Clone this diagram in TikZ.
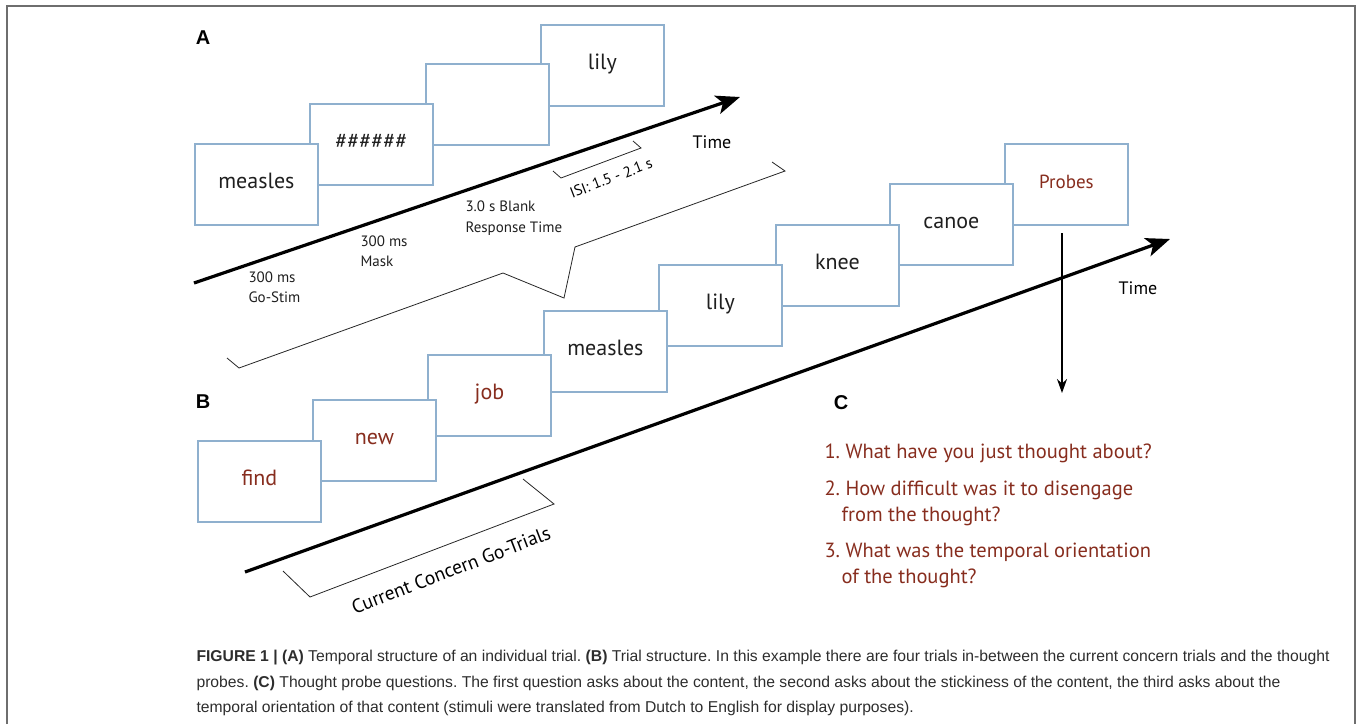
\documentclass[tikz,border=0pt]{standalone}
\usepackage{fontspec}
\setmainfont{PT Sans}
\newfontfamily\helv{Liberation Sans}
\usetikzlibrary{arrows.meta}

\definecolor{framegray}{RGB}{110,110,110}
\definecolor{slideblue}{RGB}{143,176,206}
\definecolor{probered}{RGB}{135,45,30}
\definecolor{captext}{RGB}{45,45,45}

\begin{document}
\frenchspacing
\begin{tikzpicture}[x=1pt,y=-1pt]
	\tikzset{slide/.style={draw=slideblue, line width=1.8pt, fill=white, anchor=north west, inner sep=0pt,
			minimum width=123pt, minimum height=81pt, text height=16pt, text depth=7pt,
			text=black!88, font=\fontsize{22}{26}\selectfont},
		cueword/.style={text=probered},
		timeline/.style={line width=3.2pt, -{Stealth[length=24pt,width=19pt,inset=6pt]}},
		bracket/.style={line width=0.8pt, black!85},
		note/.style={anchor=west, align=left, text=black!88, font=\fontsize{15}{20.5}\selectfont},
		panel/.style={font=\helv\bfseries\fontsize{20}{24}\selectfont},
		question/.style={anchor=west, align=left, text=probered, font=\fontsize{20.5}{26}\selectfont},
		caption/.style={anchor=base west, text=captext, font=\helv\fontsize{15.7}{20}\selectfont}}

	\useasboundingbox (0,0) rectangle (1357,724);
	\draw[framegray, line width=1.5pt] (7,724) -- (7,6) -- (1355,6) -- (1355,724);

	% A: one trial
	\node[panel] (labA) at (203,38) {A};
	\node[slide] (alily)    at (540,24)  {lily};
	\node[slide] (ablank)   at (425,63)  {};
	\node[slide] (amask)    at (309,103) {\#\#\#\#\#\#};
	\node[slide] (ameasles) at (194,143) {measles};

	\coordinate (atail) at (194,283);
	\coordinate (ahead) at (740,97);
	\draw[timeline] (atail) -- (ahead);
	\node[font=\fontsize{18}{22}\selectfont] (atime) at (712,142) {Time};

	\node[note] (gostim) at (245,287) {300 ms\\Go-Stim};
	\node[note] (mask)   at (357,251) {300 ms\\Mask};
	\node[note] (blank)  at (462,218) {3.0 s Blank\\Response Time};
	\draw[bracket] (553,171) -- (561,178) -- (641,148) -- (633,141);
	\node[font=\fontsize{15}{18}\selectfont, rotate=21] (isi) at (611,178) {ISI: 1.5 - 2.1 s};

	\draw[bracket] (227,358) -- (239,368) -- (503,273) -- (564,298) -- (575,247) -- (785,171) -- (772,162);

	% B: trial sequence
	\node[panel] (labB) at (203,402) {B};
	\node[slide, cueword, font=\fontsize{19}{22}\selectfont] (probes) at (1004,143) {Probes};
	\node[slide] (canoe)    at (889,183) {canoe};
	\node[slide] (knee)     at (775,224) {knee};
	\node[slide] (blily)    at (658,264) {lily};
	\node[slide] (bmeasles) at (543,310) {measles};
	\node[slide, cueword] (job)  at (427,354) {job};
	\node[slide, cueword] (new)  at (312,399) {new};
	\node[slide, cueword] (find) at (197,440) {find};

	\coordinate (btail) at (245,572);
	\coordinate (bhead) at (1170,239);
	\draw[timeline] (btail) -- (bhead);
	\node[font=\fontsize{18}{22}\selectfont] (btime) at (1138,288) {Time};

	\draw[bracket] (283,571) -- (310,597) -- (554,504) -- (523,479);
	\node[font=\fontsize{19.5}{22}\selectfont, rotate=21] (concern) at (451,570) {Current Concern Go-Trials};

	\coordinate (pdrop) at (1062,233);
	\coordinate (pend) at (1062,393);
	\draw[line width=1.6pt, -{Stealth[length=14pt,width=10pt]}] (pdrop) -- (pend);

	% C: probe questions
	\node[panel] (labC) at (841,403) {C};
	\node[question] (q1) at (821,453) {1. What have you just thought about?};
	\node[question] (q2) at (821,503) {2. How difficult was it to disengage\\\hspace*{17pt}from the thought?};
	\node[question] (q3) at (821,565) {3. What was the temporal orientation\\\hspace*{17pt}of the thought?};

	% caption
	\node[caption] (cap1) at (193,661) {\textbf{FIGURE 1 | (A)} Temporal structure of an individual trial. \textbf{(B)} Trial structure. In this example there are four trials in-between the current concern trials and the thought};
	\node[caption] (cap2) at (193,687) {probes. \textbf{(C)} Thought probe questions. The first question asks about the content, the second asks about the stickiness of the content, the third asks about the};
	\node[caption] (cap3) at (193,712) {temporal orientation of that content (stimuli were translated from Dutch to English for display purposes).};
\end{tikzpicture}
\end{document}
